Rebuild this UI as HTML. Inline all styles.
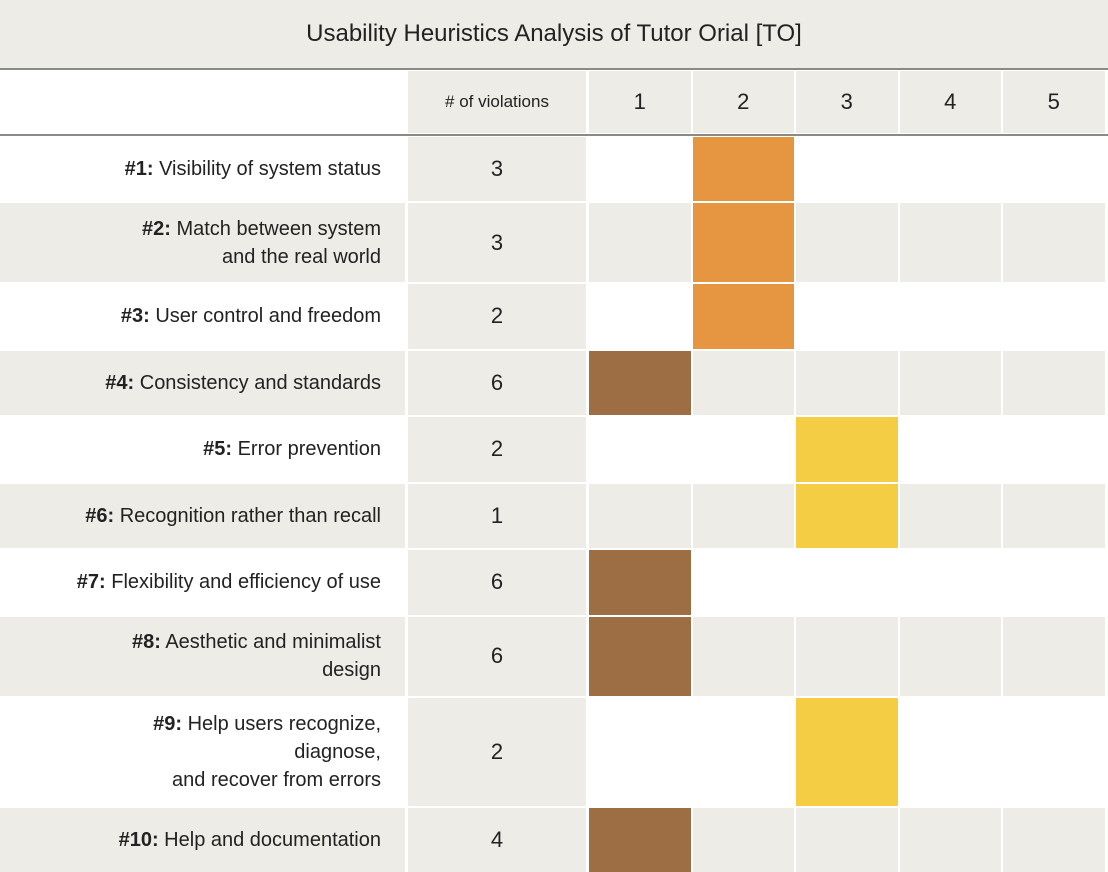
<!DOCTYPE html>
<html><head><meta charset="utf-8"><style>
body{margin:0;width:1108px;height:870px;overflow:hidden;background:#fff;font-family:"Liberation Sans",sans-serif;color:#222;}
#c{position:relative;width:1108px;height:870px;}
.cell{position:absolute;box-sizing:border-box;display:flex;align-items:center;}
.line{position:absolute;left:0;width:1108px;height:2px;background:#8a8a86;}
</style></head><body>
<div id="c">
<div class="cell" style="left:0;top:0;width:1108px;height:68px;background:#eeece7;justify-content:center;font-size:24px;">Usability Heuristics Analysis of Tutor Orial [TO]</div>
<div class="line" style="top:68px"></div>
<div class="line" style="top:134px"></div>
</div>
<script>
const heuristics=["<b>#1:</b> Visibility of system status","<b>#2:</b> Match between system<br>and the real world","<b>#3:</b> User control and freedom","<b>#4:</b> Consistency and standards","<b>#5:</b> Error prevention","<b>#6:</b> Recognition rather than recall","<b>#7:</b> Flexibility and efficiency of use","<b>#8:</b> Aesthetic and minimalist<br>design","<b>#9:</b> Help users recognize,<br>diagnose,<br>and recover from errors","<b>#10:</b> Help and documentation"];
const violations=[3,3,2,6,2,1,6,6,2,4];
const severity=[2,2,2,1,3,3,1,1,3,1];
const severityLevels=[1,2,3,4,5];
const sevColors={1:"#9d6d44",2:"#e69640",3:"#f5cd45"};
const c=document.getElementById('c');
const gray="#eeece7";
function cell(x,y,w,h,bg,html,just,fs,name){
 const d=document.createElement('div');d.className='cell';
 
 
 d.style.cssText=`left:${x}px;top:${y}px;width:${w}px;height:${h}px;background:${bg};justify-content:${just};font-size:${fs}px;`;
 if(html!==null)d.innerHTML=html;c.appendChild(d);return d;}
const colX=i=>589+i*103.5;
cell(408,71,178,62,gray,"# of violations","center",17,"violations-header");
severityLevels.forEach((s,i)=>cell(colX(i),71,101.5,62,gray,String(s),"center",22,"severity-header-"+s));
let y=136.5;
heuristics.forEach((h,r)=>{
 const lines=h.split('<br>').length;
 const pitch=lines===1?66.5:lines===2?81:110;
 const ht=pitch-2;
 const even=r%2===1;
 const lab=cell(0,y,even?405:408,ht,even?gray:"#fff","<span>"+h+"</span>","flex-end",20,"heuristic-label-"+(r+1));
 lab.style.textAlign="right";lab.style.paddingRight=(even?24:27)+"px";lab.style.lineHeight="28px";
 cell(408,y,178,ht,gray,String(violations[r]),"center",22,"violations-count-"+(r+1));
 severityLevels.forEach((s,i)=>{
  let bg=even?gray:"#fff";
  if(severity[r]===s)bg=sevColors[s];
  cell(colX(i),y,101.5,ht,bg,null,"center",12,"severity-cell-"+(r+1)+"-"+s);
 });
 y+=pitch;
});
</script>
</body></html>
